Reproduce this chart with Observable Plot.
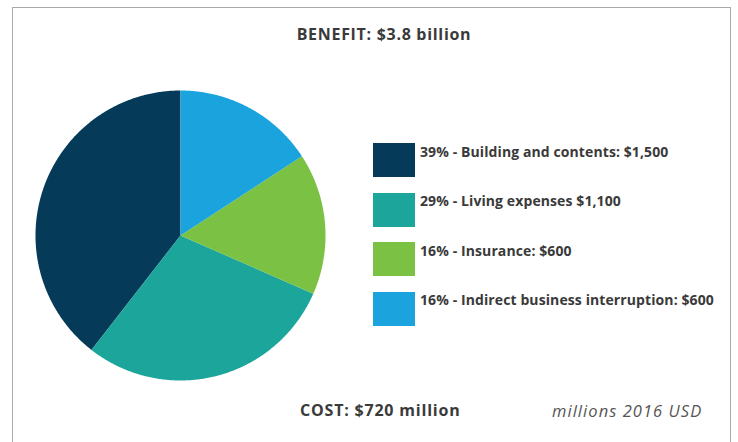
<!DOCTYPE html>
<html>
<head>
<meta charset="utf-8">
<script src="https://cdn.jsdelivr.net/npm/d3@7"></script>
<script src="https://cdn.jsdelivr.net/npm/@observablehq/plot@0.6"></script>
<style>
  html, body { margin: 0; padding: 0; background: #fff; }
  #wrap { position: relative; width: 738px; height: 442px; overflow: hidden; font-family: "Open Sans", sans-serif; color: #3a3a3a; }
  #frame { position: absolute; left: 12px; top: 7px; width: 719px; height: 460px; border: 1.5px solid #a9a9a9; border-bottom: none; box-sizing: border-box; }
  #chart { position: absolute; left: 0; top: 0; }
  .t { position: absolute; white-space: nowrap; }
  #title { left: 0; width: 768px; text-align: center; top: 23px; font-weight: 700; font-size: 16px; letter-spacing: 0.7px; }
  #cost { left: 300px; top: 399px; font-weight: 700; font-size: 16px; letter-spacing: 0.8px; }
  #unit { left: 552px; top: 399px; font-style: italic; font-size: 16.5px; letter-spacing: 1.05px; color: #555; }
  .sw { position: absolute; left: 373px; width: 42px; height: 34px; }
  .lab { position: absolute; left: 420px; font-weight: 700; font-size: 14px; letter-spacing: 0.1px; white-space: nowrap; }
</style>
</head>
<body>
<div id="wrap">
  <div id="frame"></div>
  <div id="chart"></div>
  <div class="t" id="title"></div>
  <div class="t" id="cost"></div>
  <div class="t" id="unit"></div>
</div>
<script>
const categories = ["Building and contents", "Living expenses", "Insurance", "Indirect business interruption"];
const values = [1500, 1100, 600, 600];
const percents = ["39%", "29%", "16%", "16%"];
const labels = [
  "39% - Building and contents: $1,500",
  "29% - Living expenses $1,100",
  "16% - Insurance: $600",
  "16% - Indirect business interruption: $600"
];
const colors = ["#063a59", "#1ba59b", "#7bc143", "#1aa3dd"];
const titleText = "BENEFIT: $3.8 billion";
const costText = "COST: $720 million";
const unitText = "millions 2016 USD";

const table = categories.map((name, i) => ({name, value: values[i]}));
const arcs = d3.pie().sort(null).value(d => d.value).startAngle(0).endAngle(-2 * Math.PI)(table);

const points = [];
for (const a of arcs) {
  const name = a.data.name;
  points.push({name, x: 0, y: 0});
  const n = Math.max(2, Math.ceil(Math.abs(a.endAngle - a.startAngle) / (Math.PI / 360)));
  for (let k = 0; k <= n; k++) {
    const t = a.startAngle + (a.endAngle - a.startAngle) * k / n;
    points.push({name, x: Math.sin(t), y: Math.cos(t)});
  }
  points.push({name, x: 0, y: 0});
}

const plot = Plot.plot({
  width: 738,
  height: 442,
  margin: 0,
  x: {domain: [-1, 1], range: [35, 325], axis: null},
  y: {domain: [-1, 1], range: [380, 90], axis: null},
  color: {domain: categories, range: colors},
  marks: [
    Plot.line(points, {x: "x", y: "y", z: "name", fill: "name", stroke: "none", curve: "linear"})
  ]
});
plot.style.background = "transparent";
document.getElementById("chart").appendChild(plot);

document.getElementById("title").textContent = titleText;
document.getElementById("cost").textContent = costText;
document.getElementById("unit").textContent = unitText;

const wrap = document.getElementById("wrap");
labels.forEach((lab, i) => {
  const top = 143 + i * 49.5;
  const sw = document.createElement("div");
  sw.className = "sw";
  sw.style.top = top + "px";
  sw.style.background = colors[i];
  wrap.appendChild(sw);
  const l = document.createElement("div");
  l.className = "lab";
  l.style.top = (top - 1.5) + "px";
  l.textContent = lab;
  wrap.appendChild(l);
});
</script>
</body>
</html>
